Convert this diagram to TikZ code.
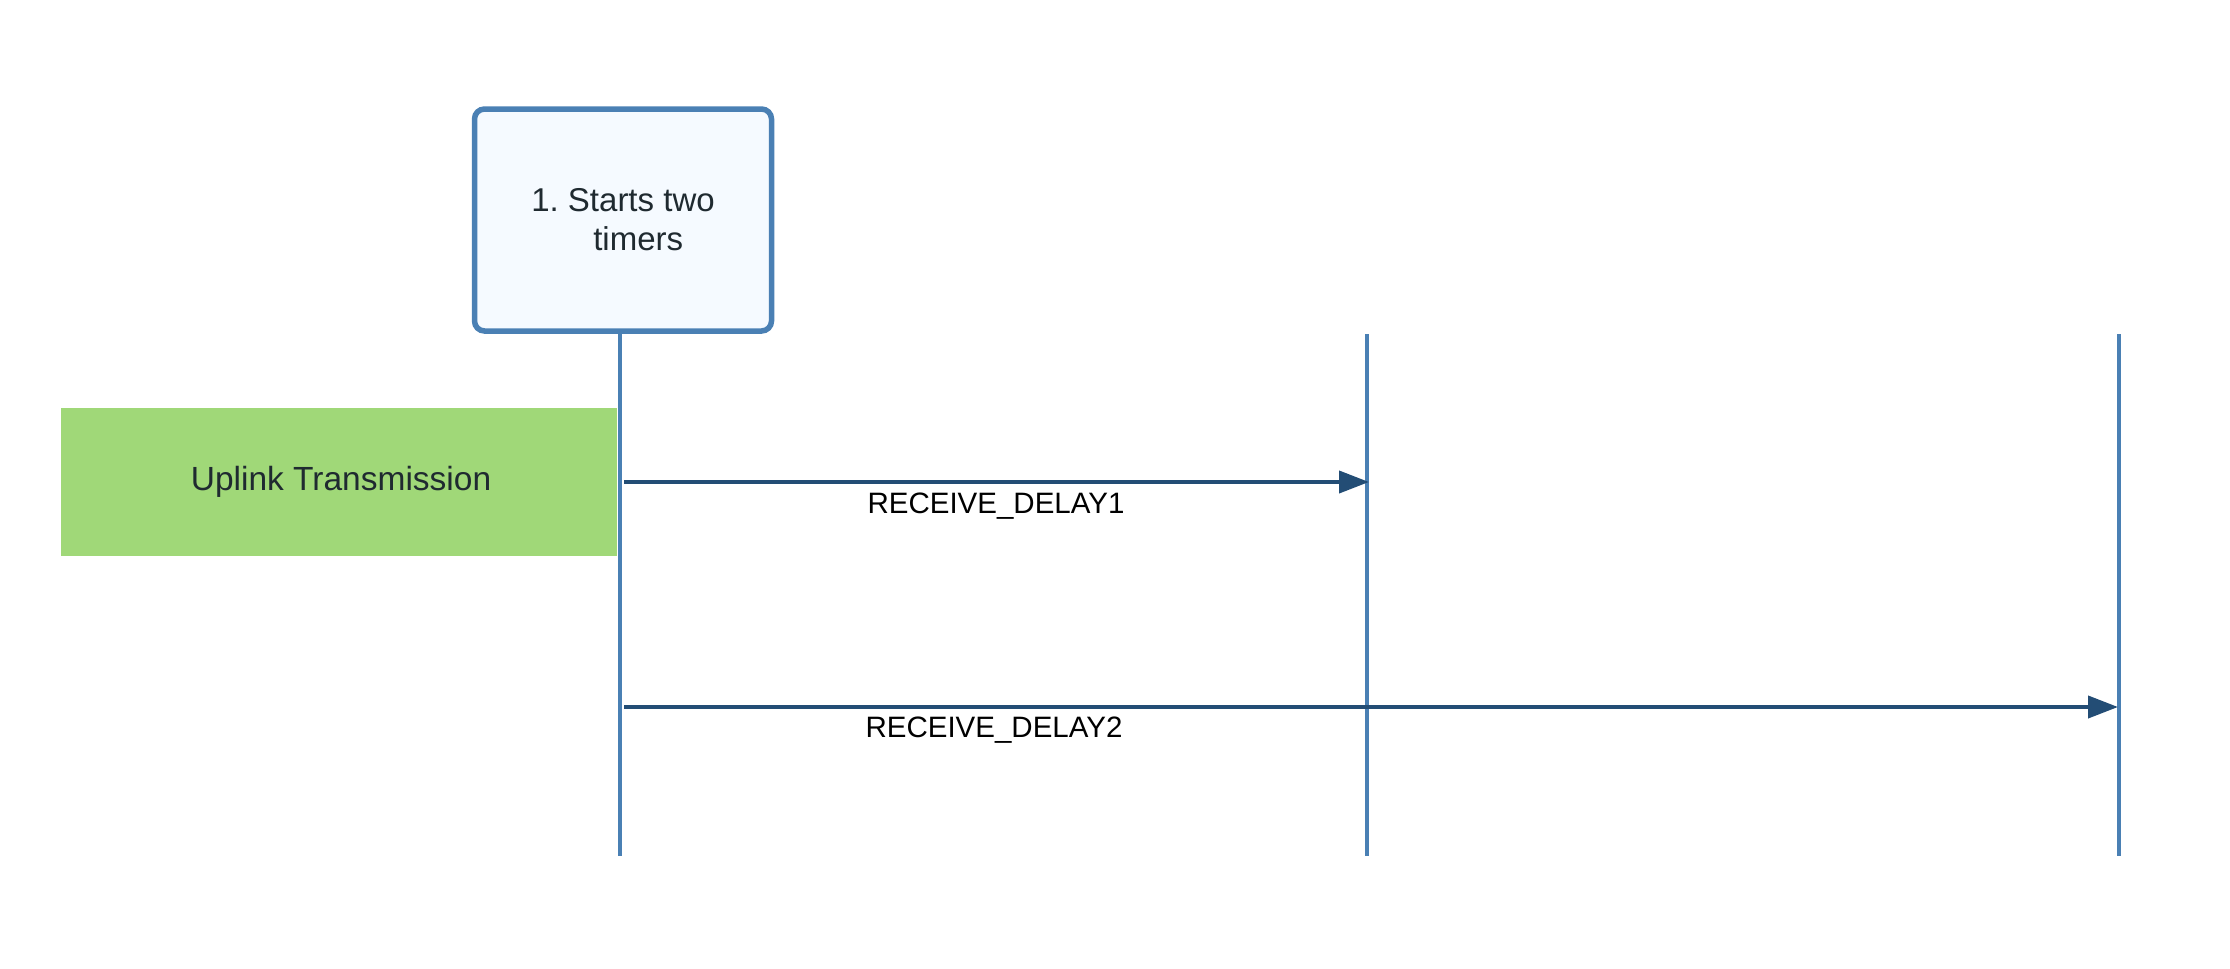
\documentclass[tikz,border=0pt]{standalone}
\usepackage{fontspec}
\setmainfont{Liberation Sans}
\usetikzlibrary{arrows.meta}
\definecolor{lifeblue}{HTML}{4A80B4}
\definecolor{arrowblue}{HTML}{234D75}
\definecolor{boxfill}{HTML}{F5FAFF}
\definecolor{upgreen}{HTML}{A0D878}
\definecolor{txtdark}{HTML}{1F2A30}
\tikzset{
  lifeline/.style={draw=lifeblue, line width=4.5pt},
  timerbox/.style={draw=lifeblue, line width=5.5pt, fill=boxfill, rounded corners=10pt,
    minimum width=297pt, minimum height=222pt, inner sep=0pt, align=left,
    text=txtdark, font=\fontsize{33}{40}\selectfont},
  greenbox/.style={fill=upgreen, minimum width=556pt, minimum height=148pt, inner sep=0pt,
    text=txtdark, font=\fontsize{33.5}{40}\selectfont},
  delayarrow/.style={draw=arrowblue, line width=4pt, -{Triangle[length=30pt,width=22pt]}},
  delaylabel/.style={font=\fontsize{29.5}{34}\selectfont, text=black, inner sep=0pt}
}
\begin{document}
\begin{tikzpicture}[x=1pt,y=-1pt]
\useasboundingbox (0,0) rectangle (2230,969);
\node[greenbox] (uplink) at (339,482) {\hspace{4pt}Uplink Transmission};
\node[timerbox] (box) at (623,220) {1.~Starts two\\[-1pt]\hspace{62pt}timers};
\coordinate (l1b) at (620,856);
\coordinate (l2t) at (1367,334);
\coordinate (l2b) at (1367,856);
\coordinate (l3t) at (2119,334);
\coordinate (l3b) at (2119,856);
\draw[lifeline] (box.south -| l1b) -- (l1b);
\draw[lifeline] (l2t) -- (l2b);
\draw[lifeline] (l3t) -- (l3b);
\coordinate (a1s) at (624,482);
\coordinate (a1e) at (1369,482);
\coordinate (a2s) at (624,707);
\coordinate (a2e) at (2118,707);
\draw[delayarrow] (a1s) -- (a1e);
\draw[delayarrow] (a2s) -- (a2e);
\node[delaylabel] (d1) at (996,506) {RECEIVE\_DELAY1};
\node[delaylabel] (d2) at (994,730) {RECEIVE\_DELAY2};
\end{tikzpicture}
\end{document}
